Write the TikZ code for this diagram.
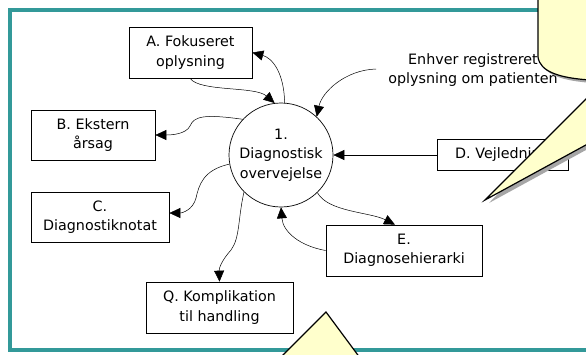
\documentclass[tikz,border=0pt]{standalone}
\usepackage{fontspec}
\setmainfont{DejaVu Sans}
\usetikzlibrary{arrows.meta,calc}
\definecolor{teal1}{RGB}{51,153,153}
\definecolor{calloutyellow}{RGB}{255,255,204}
\begin{document}
\begin{tikzpicture}[x=1pt,y=-1pt,
  box/.style={draw, line width=0.7pt, fill=white, align=center, inner sep=0pt,
    font=\fontsize{14.3}{19.5}\selectfont},
  arr/.style={-{Triangle[length=11pt,width=10pt]}, line width=0.5pt},
  callout/.style={fill=calloutyellow, draw=black, line width=1.2pt, line join=miter},
  shadowgray/.style={fill=gray!70, draw=none}]
\clip (0,0) rectangle (586,354);
\fill[white] (0,0) rectangle (586,354);
\draw[teal1, line width=4pt] (10,10) rectangle (600,350);

\node[box, minimum width=123pt, minimum height=51pt] (A) at (190.5,52.5) {A. Fokuseret\\oplysning};
\node[box, minimum width=124pt, minimum height=50pt] (B) at (93,135) {B. Ekstern\\årsag};
\node[box, minimum width=138pt, minimum height=50pt] (C) at (100,217) {C.\\Diagnostiknotat};
\node[box, minimum width=147pt, minimum height=51pt] (Q) at (219.5,307.5) {Q. Komplikation\\til handling};
\node[box, minimum width=156pt, minimum height=51pt] (E) at (404,250.5) {E.\\Diagnosehierarki};
\node[box, minimum width=131pt, minimum height=31pt] (D) at (502.5,155) {D. Vejledning};
\node[draw, circle, line width=0.7pt, fill=white, minimum size=104pt, inner sep=0pt, align=center,
  font=\fontsize{14.3}{19.5}\selectfont] (circ) at (281,155) {1.\\Diagnostisk\\overvejelse};
\node[align=center, font=\fontsize{14.3}{19.5}\selectfont] (txt) at (473,70) {Enhver registreret\\oplysning om patienten};
\coordinate (ts) at (376,69);

\draw[arr] ($(A.south)+(-0.5,0)$) .. controls (200,92) and (255,86) .. (circ.97);
\draw[arr] (circ.86) .. controls (284,72) and (272,58) .. (A.east);
\draw[arr] (circ.137) .. controls (205,114) and (194,116) .. (190,126) .. controls (186,134) and (172,135) .. (B.east);
\draw[arr] (ts) .. controls (345,70) and (322,92) .. (circ.47);
\draw[arr] (D.west) -- (circ.east);
\draw[arr] (circ.190) .. controls (203,170) and (199,185) .. (196,198) .. controls (193,210) and (182,213) .. ($(C.east)+(0,-4)$);
\draw[arr] (circ.225) .. controls (238,218) and (240,238) .. (231,250) .. controls (222,260) and (219,268) .. (Q.north);
\draw[arr] (circ.314) .. controls (328,212) and (370,212) .. ($(E.north)+(-9,0)$);
\draw[arr] (E.west) .. controls (300,246) and (283,232) .. (circ.south);

% top-right callout
\fill[shadowgray] (541,-20) -- (541,60) .. controls (543,75) and (563,81) .. (593,83) -- (608,83) -- (489,203) -- (650,115) -- (650,-20) -- cycle;
\draw[callout] (538,-20) -- (538,57) .. controls (540,72) and (560,78) .. (590,80) -- (605,80) -- (485,200) -- (650,110) -- (650,-20) -- cycle;
% bottom callout pointer
\draw[callout] (272,366) -- (326,312) -- (366,366) -- cycle;
\end{tikzpicture}
\end{document}
